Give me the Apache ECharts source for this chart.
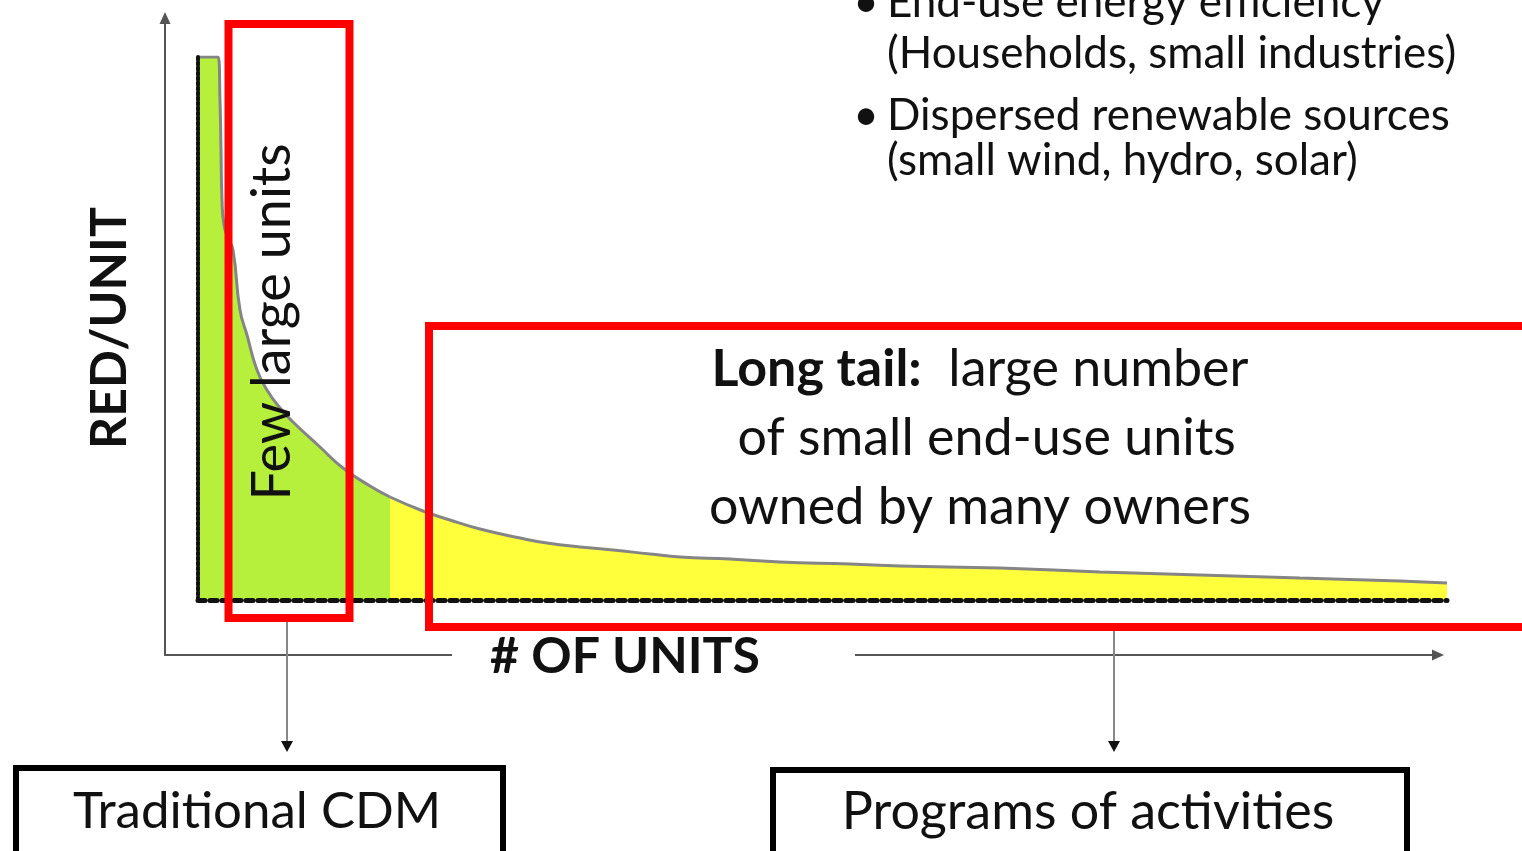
<!DOCTYPE html>
<html><head><meta charset="utf-8">
<script src="https://cdn.jsdelivr.net/npm/echarts@6/dist/echarts.min.js"></script>
<style>html,body{margin:0;padding:0;background:#fff;overflow:hidden}#c{width:1522px;height:851px}</style>
</head><body><div id="c"></div>
<script>
// ---- data ----
const unitsX = [0, 20, 22, 23, 24, 26, 30, 35, 42, 49, 59, 69, 82, 95, 122, 145, 172, 192,
  225, 252, 282, 322, 349, 382, 415, 452, 482, 532, 582, 652, 702, 802, 902, 1002, 1102, 1202, 1249];
const redPerUnit = [543, 543, 500, 450, 400, 375, 362, 350, 290, 265, 230, 210, 192, 178, 153, 132, 114, 103,
  89, 80, 71, 62, 57, 53, 50, 46, 43, 41, 38, 36, 34, 32, 28, 25, 22, 19, 17];
const largeUnitsEnd = 192;            // where green (few large units) turns to yellow (long tail)
const xAxisTitle = '# OF UNITS';
const yAxisTitle = 'RED/UNIT';
const largeLabel = 'Few large units';
const tailLines = ['{b|Long tail:}  large number', ' of small end-use units', 'owned by many owners'];
const bulletLines = [
  ['•', 'End-use energy efficiency'], ['', '(Households, small industries)'],
  ['•', 'Dispersed renewable sources'], ['', '(small wind, hydro, solar)']
];
const boxLabels = ['Traditional CDM', 'Programs of activities'];

// ---- build ----
const FONT = 'Lato, "Open Sans", sans-serif';
const pts = unitsX.map((x, i) => [x, redPerUnit[i]]);
const greenData = pts.filter(p => p[0] <= largeUnitsEnd);
const yellowData = pts.filter(p => p[0] >= largeUnitsEnd);

const chart = echarts.init(document.getElementById('c'), null, {renderer: 'canvas'});
const noAxisBits = {axisTick: {show: false}, axisLabel: {show: false}, splitLine: {show: false}};

const bulletY = [3, 54, 116, 161];
const graphics = [];
// gap in outer x axis + its title
graphics.push({type: 'rect', shape: {x: 452, y: 644, width: 403, height: 22}, style: {fill: '#fff'}, z: 50});
graphics.push({type: 'text', x: 625, y: 657, z: 60,
  style: {text: xAxisTitle, fontFamily: FONT, fontWeight: 'bold', fontSize: 50, fill: '#111', align: 'center', verticalAlign: 'middle'}});
// y title
graphics.push({type: 'text', x: 110, y: 328, rotation: Math.PI / 2, z: 60,
  style: {text: yAxisTitle, fontFamily: FONT, fontWeight: 'bold', fontSize: 50, fill: '#111', align: 'center', verticalAlign: 'middle'}});
// red boxes
graphics.push({type: 'rect', shape: {x: 228.5, y: 24, width: 121, height: 594}, style: {fill: 'none', stroke: '#ff0000', lineWidth: 8}, z: 40});
graphics.push({type: 'rect', shape: {x: 429, y: 326, width: 1200, height: 301}, style: {fill: 'none', stroke: '#ff0000', lineWidth: 8}, z: 40});
// rotated label
graphics.push({type: 'text', x: 273, y: 322, rotation: Math.PI / 2, z: 60,
  style: {text: largeLabel, fontFamily: FONT, fontSize: 54, fill: '#111', align: 'center', verticalAlign: 'middle'}});
// long tail label
graphics.push({type: 'text', x: 980, y: 438, z: 60,
  style: {text: tailLines.join('\n'), fontFamily: FONT, fontSize: 52, lineHeight: 69, fill: '#111', align: 'center', verticalAlign: 'middle',
    rich: {b: {fontFamily: FONT, fontSize: 52, fontWeight: 'bold', lineHeight: 69, fill: '#111'}}}});
// bullets
bulletLines.forEach((ln, i) => {
  if (ln[0]) graphics.push({type: 'text', x: 866, y: bulletY[i], z: 60,
    style: {text: ln[0], fontFamily: FONT, fontSize: 44, fill: '#111', align: 'center', verticalAlign: 'middle'}});
  graphics.push({type: 'text', x: 887, y: bulletY[i], z: 60,
    style: {text: ln[1], fontFamily: FONT, fontSize: 44, fill: '#111', align: 'left', verticalAlign: 'middle'}});
});
// down arrows
[[287, 622], [1114, 631]].forEach(a => {
  graphics.push({type: 'line', shape: {x1: a[0], y1: a[1], x2: a[0], y2: 744}, style: {stroke: '#888', lineWidth: 2}, z: 30});
  graphics.push({type: 'polygon', shape: {points: [[a[0] - 6, 741], [a[0] + 6, 741], [a[0], 752]]}, style: {fill: '#111'}, z: 31});
});
// bottom boxes
[[16, 768, 487, 257], [773, 770, 634, 1088]].forEach((b, i) => {
  graphics.push({type: 'rect', shape: {x: b[0], y: b[1], width: b[2], height: 120}, style: {fill: '#fff', stroke: '#000', lineWidth: 6}, z: 30});
  graphics.push({type: 'text', x: b[3], y: 812, z: 31,
    style: {text: boxLabels[i], fontFamily: FONT, fontSize: i === 0 ? 51 : 52, fill: '#111', align: 'center', verticalAlign: 'middle'}});
});

chart.setOption({
  backgroundColor: '#fff',
  animation: false,
  grid: [
    {left: 198, right: 75, top: 57, bottom: 251},
    {left: 165, right: 84, top: 18, bottom: 196}
  ],
  xAxis: [
    Object.assign({type: 'value', gridIndex: 0, min: 0, max: 1249, z: 5,
      axisLine: {show: true, lineStyle: {color: '#111', width: 5, type: [7, 5]}}}, noAxisBits),
    Object.assign({type: 'value', gridIndex: 1, min: 0, max: 1,
      axisLine: {show: true, symbol: ['none', 'triangle'], symbolSize: [11, 12], lineStyle: {color: '#555', width: 2}}}, noAxisBits)
  ],
  yAxis: [
    Object.assign({type: 'value', gridIndex: 0, min: 0, max: 543, z: 5,
      axisLine: {show: true, lineStyle: {color: '#111', width: 4, type: [3, 2]}}}, noAxisBits),
    Object.assign({type: 'value', gridIndex: 1, min: 0, max: 1,
      axisLine: {show: true, symbol: ['none', 'triangle'], symbolSize: [11, 12], lineStyle: {color: '#555', width: 2}}}, noAxisBits)
  ],
  series: [
    {type: 'line', xAxisIndex: 0, yAxisIndex: 0, data: greenData, symbol: 'none', silent: true,
      smooth: 0.5,
      lineStyle: {color: '#858585', width: 3}, areaStyle: {color: '#b6f03c', opacity: 1}},
    {type: 'line', xAxisIndex: 0, yAxisIndex: 0, data: yellowData, symbol: 'none', silent: true,
      smooth: 0.5,
      lineStyle: {color: '#858585', width: 3}, areaStyle: {color: '#ffff3c', opacity: 1}}
  ],
  graphic: {elements: graphics}
});
</script>
</body></html>
